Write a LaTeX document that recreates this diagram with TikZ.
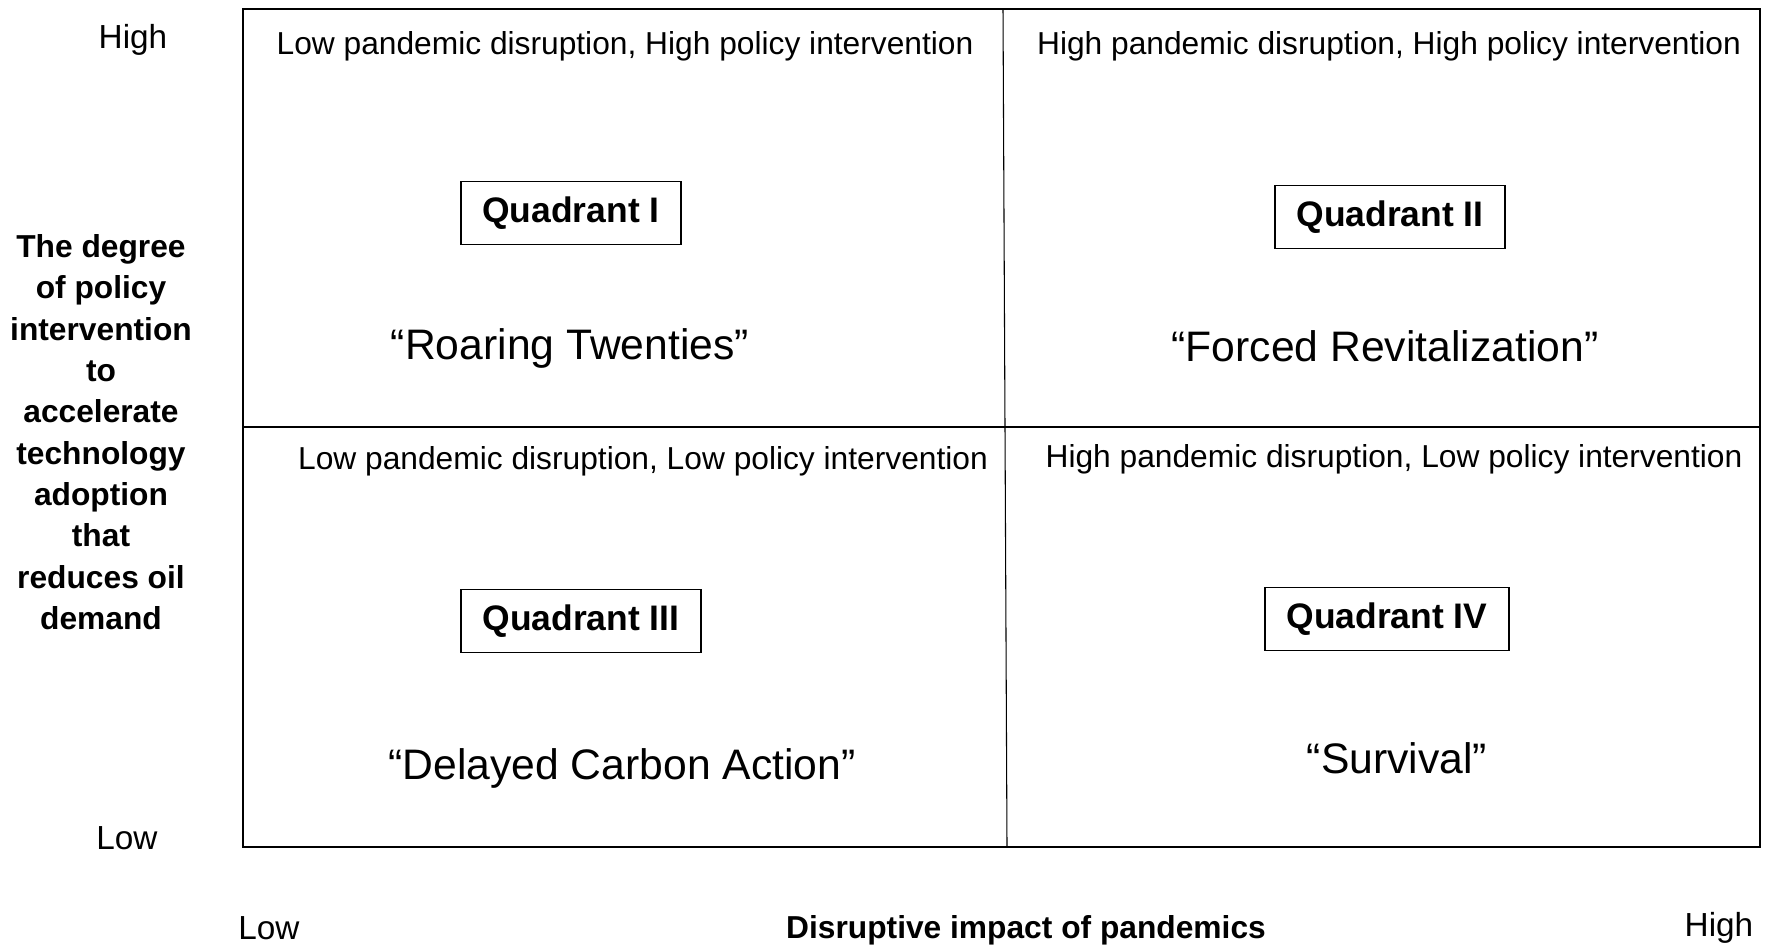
\documentclass[tikz,border=0pt]{standalone}
\usepackage{fontspec}
\setmainfont{Liberation Sans}
\begin{document}
\begin{tikzpicture}[x=0.75pt,y=-0.75pt,
  hdr/.style={font=\fontsize{23.8}{28}\selectfont, inner sep=0pt},
  qbox/.style={draw, line width=1.1pt, font=\bfseries\fontsize{26.6}{30}\selectfont, inner xsep=16pt, minimum height=47pt},
  scen/.style={font=\fontsize{32}{38}\selectfont, inner sep=0pt},
  axis/.style={font=\fontsize{25}{30}\selectfont, inner sep=0pt},
  axtitle/.style={font=\bfseries\fontsize{23.8}{31}\selectfont, inner sep=0pt, align=center},
  frame/.style={line width=2pt},
  divider/.style={line width=0.8pt}]
\useasboundingbox (0,0) rectangle (1766,946);
% frame and dividers
\draw[frame] (243,9) rectangle (1760,847);
\coordinate (vt) at (1003,9);
\coordinate (vb) at (1007,847);
\coordinate (hl) at (243,427);
\coordinate (hr) at (1760,427);
\draw[divider] (vt) -- (vb);
\draw[divider] (hl) -- (hr);
% axis labels
\node[axis] (yhigh) at (133,40) {High};
\node[axis] (ylow) at (127,838) {Low};
\node[axtitle] (ylab) at (101,432) {The degree\\of policy\\intervention\\to\\accelerate\\technology\\adoption\\that\\reduces oil\\demand};
\node[axis] (xlow) at (269,928) {Low};
\node[axtitle] (xlab) at (1026,930) {Disruptive impact of pandemics};
\node[axis] (xhigh) at (1719,928) {High};
% quadrant headers
\node[hdr] (h1) at (625,46) {Low pandemic disruption, High policy intervention};
\node[hdr] (h2) at (1389,46) {High pandemic disruption, High policy intervention};
\node[hdr] (h3) at (643,461) {Low pandemic disruption, Low policy intervention};
\node[hdr] (h4) at (1394,459) {High pandemic disruption, Low policy intervention};
% quadrant boxes
\node[qbox] (q1) at (571,213) {Quadrant I};
\node[qbox] (q2) at (1390,217) {Quadrant II};
\node[qbox] (q3) at (581,621) {Quadrant III};
\node[qbox] (q4) at (1387,619) {Quadrant IV};
% scenario names
\node[scen] (s1) at (570,348) {“Roaring Twenties”};
\node[scen] (s2) at (1385,346) {“Forced Revitalization”};
\node[scen] (s3) at (622,768) {“Delayed Carbon Action”};
\node[scen] (s4) at (1397,758) {“Survival”};
\end{tikzpicture}
\end{document}
